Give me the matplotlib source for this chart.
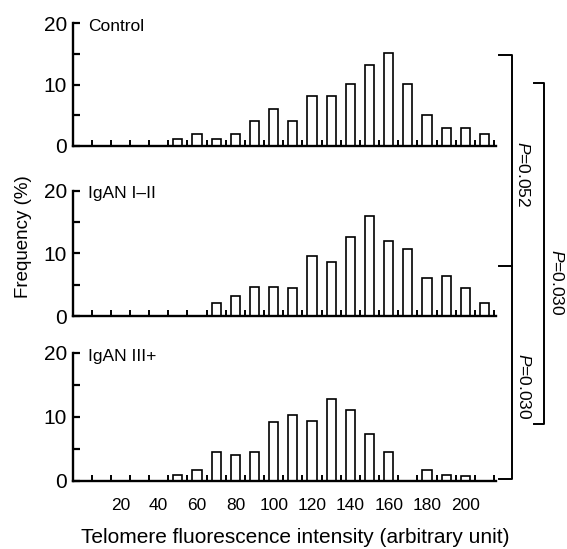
import numpy as np
import matplotlib
matplotlib.use("Agg")
import matplotlib.pyplot as plt
from matplotlib.lines import Line2D

plt.rcParams['font.family'] = ['Liberation Sans', 'DejaVu Sans']
plt.rcParams['mathtext.fontset'] = 'custom'
plt.rcParams['mathtext.it'] = 'Liberation Sans:italic'
plt.rcParams['mathtext.rm'] = 'Liberation Sans'

# ---- data ----
intensity = [50, 60, 70, 80, 90, 100, 110, 120, 130, 140, 150, 160, 170, 180, 190, 200, 210]
control = [1.1, 2.0, 1.1, 2.0, 4.0, 6.1, 4.0, 8.1, 8.1, 10.1, 13.2, 15.2, 10.1, 5.0, 3.0, 3.0, 2.0]
igan_1_2 = [0, 0, 2.1, 3.2, 4.6, 4.6, 4.4, 9.6, 8.6, 12.6, 16.0, 12.0, 10.6, 6.1, 6.4, 4.5, 2.1]
igan_3 = [1.0, 1.7, 4.5, 4.0, 4.5, 9.2, 10.3, 9.4, 12.8, 11.1, 7.4, 4.5, 0, 1.7, 0.9, 0.8, 0]
panel_names = ["Control", "IgAN I\u2013II", "IgAN III+"]
xtick_labels = [20, 40, 60, 80, 100, 120, 140, 160, 180, 200]
bin_edges = [5, 15, 25, 35, 45, 55, 65, 75, 85, 95, 105, 115, 125, 135, 145, 155, 165, 175, 185, 195, 205, 215]
p_labels = ["0.052", "0.030", "0.030"]

W, H = 567, 549
fig = plt.figure(figsize=(W / 100, H / 100), dpi=100)

def fx(px):
    return px / W

def fy(py):
    return 1 - py / H

# (bottom px, top px)
panels = [(146, 23.3), (316, 190.5), (481, 353)]
series = [control, igan_1_2, igan_3]
left_px, right_px = 72.5, 496

for i, ((b, t), vals, name) in enumerate(zip(panels, series, panel_names)):
    ax = fig.add_axes([fx(left_px), fy(b), fx(right_px) - fx(left_px), (b - t) / H])
    xs = [x for x, v in zip(intensity, vals) if v > 0]
    vs = [v for v in vals if v > 0]
    ax.bar(xs, vs, width=4.8, facecolor='white', edgecolor='black', linewidth=1.2, zorder=3)
    ax.set_xlim(-5, 216)
    ax.set_ylim(0, 20)
    for s in ['top', 'right']:
        ax.spines[s].set_visible(False)
    for s in ['left', 'bottom']:
        ax.spines[s].set_linewidth(1.7)
    ax.spines['bottom'].set_zorder(4)
    ax.set_yticks([0, 10, 20])
    ax.set_yticks([5, 15], minor=True)
    ax.tick_params(axis='y', which='both', direction='in', length=5, width=1.6, labelsize=15, pad=4)
    ax.set_xticks(bin_edges, minor=True)
    ax.tick_params(axis='x', which='minor', direction='in', length=4, width=1.4)
    if i == 2:
        ax.set_xticks(xtick_labels)
        ax.set_xticklabels([str(v) for v in xtick_labels])
        ax.tick_params(axis='x', which='major', length=0, labelsize=12.5, pad=12)
    else:
        ax.set_xticks([])
    ax.patch.set_alpha(0)
    fig.text(fx(88), fy(t + 3), name, ha='left', va='center', fontsize=12.5)

fig.text(fx(24), fy(237), "Frequency (%)", rotation=90, ha='center', va='center', fontsize=13.5)
fig.text(fx(295), fy(543), "Telomere fluorescence intensity (arbitrary unit)", ha='center', va='baseline', fontsize=15)

def line(xs, ys):
    fig.add_artist(Line2D([fx(x) for x in xs], [fy(y) for y in ys], color='black', linewidth=1.4))

# bracket A (Control vs IgAN I-II, IgAN I-II vs IgAN III+)
line([499, 512, 512, 499], [55, 55, 479, 479])
line([499, 512], [266, 266])
# bracket B (Control vs IgAN III+)
line([534, 544, 544, 534], [83, 83, 424, 424])

fig.text(fx(523), fy(174), r"$\it{P}$=" + p_labels[0], rotation=-90, ha='center', va='center', fontsize=12.5)
fig.text(fx(557), fy(282), r"$\it{P}$=" + p_labels[1], rotation=-90, ha='center', va='center', fontsize=12.5)
fig.text(fx(524), fy(386), r"$\it{P}$=" + p_labels[2], rotation=-90, ha='center', va='center', fontsize=12.5)

fig.savefig("out.png", dpi=100)
